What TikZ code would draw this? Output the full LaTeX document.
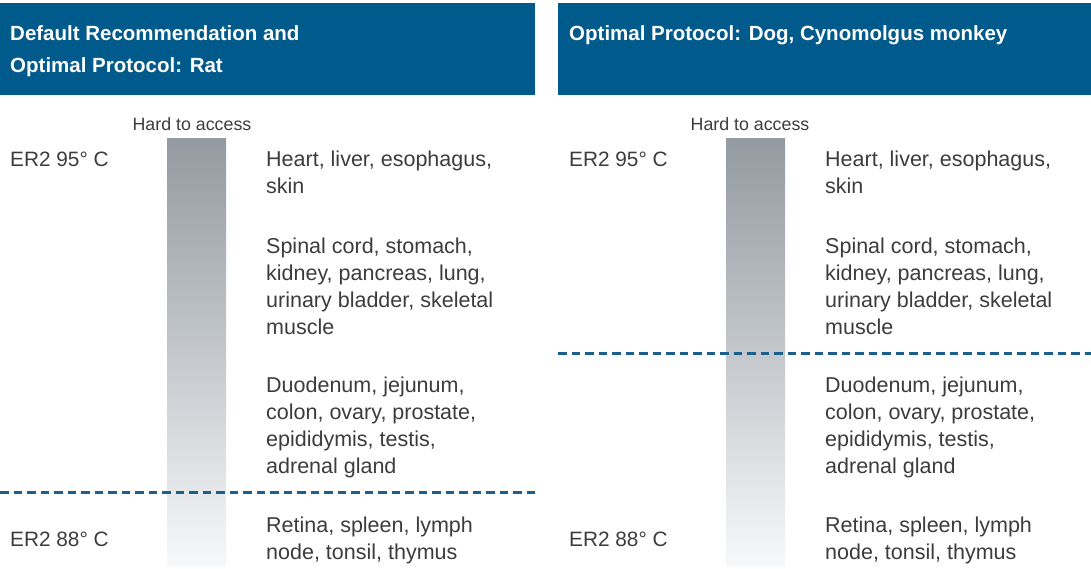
\documentclass[tikz,border=0pt]{standalone}
\usepackage{fontspec}
\setmainfont{Liberation Sans}
\begin{document}
\begin{tikzpicture}[x=1pt,y=-1pt,
  hdr/.style={fill=hdrblue,draw=none},
  hdrtext/.style={anchor=north west,inner sep=0pt,text=white,font=\fontsize{20.5}{32}\selectfont\bfseries,align=left},
  body/.style={anchor=north west,inner sep=0pt,text=txtgray,font=\fontsize{21.5}{26.8}\selectfont,align=left},
  erlab/.style={anchor=north west,inner sep=0pt,text=txtgray,font=\fontsize{20.8}{26.8}\selectfont,align=left},
  small/.style={anchor=center,inner sep=0pt,text=txtgray,font=\fontsize{17.8}{18}\selectfont},
  bar/.style={draw=none,top color=bartop,bottom color=barbot,middle color=barmid},
  sep/.style={draw=dashblue,line width=3pt,dash pattern=on 8.5pt off 5pt}]
\definecolor{hdrblue}{HTML}{005A8B}
\definecolor{txtgray}{HTML}{3C3C3C}
\definecolor{bartop}{HTML}{939AA1}
\definecolor{barmid}{HTML}{C4C8CC}
\definecolor{barbot}{HTML}{F7F8F9}
\definecolor{dashblue}{HTML}{1B5F8C}
\useasboundingbox (0,0) rectangle (1091,569);
% left panel
\fill[hdr] (0,3) rectangle (535,95);
\node[hdrtext] (lh) at (10,25) {Default Recommendation and\\Optimal Protocol: Rat};
\shade[bar] (167,139) rectangle (226,566);
\node[small] (lhard) at (192,124) {Hard to access};
\node[erlab] (l95) at (10,152) {ER2 95° C};
\node[erlab] (l88) at (10,532) {ER2 88° C};
\node[body] (la) at (266,151) {Heart, liver, esophagus,\\skin};
\node[body] (lb) at (266,238) {Spinal cord, stomach,\\kidney, pancreas, lung,\\urinary bladder, skeletal\\muscle};
\node[body] (lc) at (266,377) {Duodenum, jejunum,\\colon, ovary, prostate,\\epididymis, testis,\\adrenal gland};
\node[body] (ld) at (266,517) {Retina, spleen, lymph\\node, tonsil, thymus};
\coordinate (ls1) at (0,492);
\coordinate (ls2) at (535,492);
\draw[sep] (ls1) -- (ls2);
% right panel
\fill[hdr] (558,3) rectangle (1091,95);
\node[hdrtext] (rh) at (569,25) {Optimal Protocol: Dog, Cynomolgus monkey};
\shade[bar] (726,139) rectangle (785,566);
\node[small] (rhard) at (750,124) {Hard to access};
\node[erlab] (r95) at (569,152) {ER2 95° C};
\node[erlab] (r88) at (569,532) {ER2 88° C};
\node[body] (ra) at (825,151) {Heart, liver, esophagus,\\skin};
\node[body] (rb) at (825,238) {Spinal cord, stomach,\\kidney, pancreas, lung,\\urinary bladder, skeletal\\muscle};
\node[body] (rc) at (825,377) {Duodenum, jejunum,\\colon, ovary, prostate,\\epididymis, testis,\\adrenal gland};
\node[body] (rd) at (825,517) {Retina, spleen, lymph\\node, tonsil, thymus};
\coordinate (rs1) at (558,353);
\coordinate (rs2) at (1091,353);
\draw[sep] (rs1) -- (rs2);
\end{tikzpicture}
\end{document}
